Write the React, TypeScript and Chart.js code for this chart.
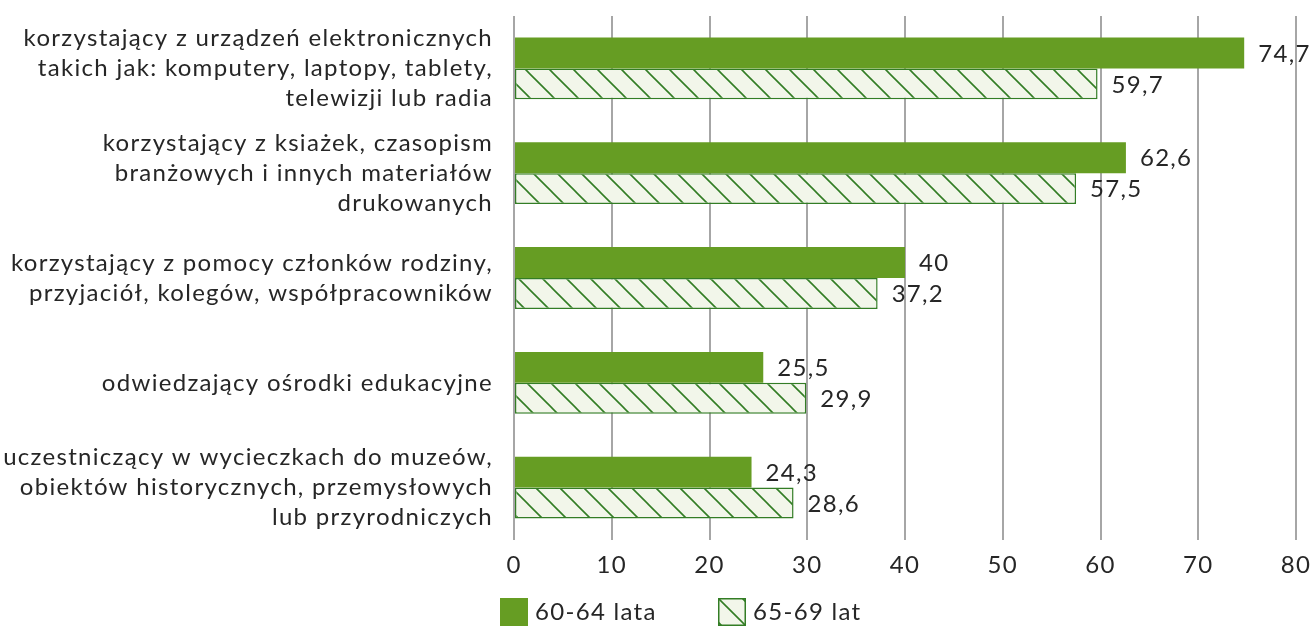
import React, { useEffect, useRef } from "react";
import { Chart, registerables } from "chart.js";

Chart.register(...registerables);

const categories: string[][] = [
  ["korzystający z urządzeń elektronicznych", "takich jak: komputery, laptopy, tablety,", "telewizji lub radia"],
  ["korzystający z ksiażek, czasopism", "branżowych i innych materiałów", "drukowanych"],
  ["korzystający z pomocy członków rodziny,", "przyjaciół, kolegów, współpracowników"],
  ["odwiedzający ośrodki edukacyjne"],
  ["uczestniczący w wycieczkach do muzeów,", "obiektów historycznych, przemysłowych", "lub przyrodniczych"],
];
const seriesNames = ["60-64 lata", "65-69 lat"];
const values6064 = [74.7, 62.6, 40, 25.5, 24.3];
const values6569 = [59.7, 57.5, 37.2, 29.9, 28.6];
const xTicks = [0, 10, 20, 30, 40, 50, 60, 70, 80];

const FONT = "Lato, 'Noto Sans', sans-serif";
const FSIZE = 24;
const SPACING = "1.3px";
const TEXT = "#262626";
const GREEN = "#669d23";
const DARK = "#337d25";
const LIGHT = "#f2f6ea";

function makeHatch(): CanvasPattern | string {
  const s = 24;
  const c = document.createElement("canvas");
  c.width = s;
  c.height = s;
  const g = c.getContext("2d");
  if (!g) return LIGHT;
  g.fillStyle = LIGHT;
  g.fillRect(0, 0, s, s);
  g.strokeStyle = DARK;
  g.lineWidth = 1.6;
  g.beginPath();
  g.moveTo(-2, -2);
  g.lineTo(s + 2, s + 2);
  g.moveTo(-2, s - 2);
  g.lineTo(2, s + 2);
  g.moveTo(s - 2, -2);
  g.lineTo(s + 2, 2);
  g.stroke();
  const p = g.createPattern(c, "repeat");
  return p || LIGHT;
}

const fmt = (v: number) => String(v).replace(".", ",");

const spacingPlugin = {
  id: "spacing",
  beforeUpdate(chart: any) {
    (chart.ctx as any).letterSpacing = SPACING;
  },
  beforeDraw(chart: any) {
    (chart.ctx as any).letterSpacing = SPACING;
  },
};

const valueLabels = {
  id: "valueLabels",
  afterDatasetsDraw(chart: any) {
    const ctx = chart.ctx;
    ctx.save();
    (ctx as any).letterSpacing = SPACING;
    ctx.font = `${FSIZE}px ${FONT}`;
    ctx.fillStyle = TEXT;
    ctx.textAlign = "left";
    ctx.textBaseline = "middle";
    chart.data.datasets.forEach((ds: any, di: number) => {
      const meta = chart.getDatasetMeta(di);
      meta.data.forEach((el: any, i: number) => {
        ctx.fillText(fmt(ds.data[i]), el.x + 14, el.y + 1);
      });
    });
    ctx.restore();
  },
};

const customLegend = {
  id: "customLegend",
  afterDraw(chart: any) {
    const ctx = chart.ctx;
    ctx.save();
    (ctx as any).letterSpacing = SPACING;
    ctx.font = `${FSIZE}px ${FONT}`;
    ctx.textBaseline = "middle";
    ctx.textAlign = "left";
    const starts = [500, 718];
    const boxTop = 598;
    const box = 28;
    chart.data.datasets.forEach((ds: any, i: number) => {
      const x = starts[i];
      ctx.fillStyle = ds.backgroundColor;
      ctx.fillRect(x, boxTop, box, box);
      if (ds.borderWidth) {
        ctx.strokeStyle = ds.borderColor;
        ctx.lineWidth = 1.5;
        ctx.strokeRect(x + 0.75, boxTop + 0.75, box - 1.5, box - 1.5);
      }
      ctx.fillStyle = TEXT;
      ctx.fillText(ds.label, x + box + 7, boxTop + box / 2);
    });
    ctx.restore();
  },
};

export default function App() {
  const ref = useRef<HTMLCanvasElement | null>(null);
  useEffect(() => {
    if (!ref.current) return;
    const hatch = makeHatch();
    const chart = new Chart(ref.current, {
      type: "bar",
      data: {
        labels: categories,
        datasets: [
          {
            label: seriesNames[0],
            data: values6064,
            backgroundColor: GREEN,
            borderWidth: 0,
            categoryPercentage: 0.59,
            barPercentage: 1,
          },
          {
            label: seriesNames[1],
            data: values6569,
            backgroundColor: hatch as any,
            borderColor: DARK,
            borderWidth: 1.5,
            borderSkipped: false,
            categoryPercentage: 0.59,
            barPercentage: 1,
          },
        ],
      },
      options: {
        indexAxis: "y",
        responsive: false,
        animation: false,
        layout: { padding: { top: 16, right: 16, left: 0, bottom: 0 } },
        plugins: {
          legend: { display: false },
          tooltip: { enabled: false },
        },
        scales: {
          x: {
            min: 0,
            max: 80,
            afterBuildTicks: (scale: any) => {
              scale.ticks = xTicks.map((v) => ({ value: v }));
            },
            afterFit: (scale: any) => {
              scale.height = 86;
              scale.paddingLeft = 0;
              scale.paddingRight = 0;
            },
            grid: {
              color: "#a6a6a6",
              lineWidth: 2,
              drawTicks: false,
            },
            border: { display: false },
            ticks: {
              padding: 11,
              color: TEXT,
              font: { family: FONT, size: FSIZE },
            },
          },
          y: {
            afterFit: (scale: any) => {
              scale.width = 514;
              scale.paddingTop = 0;
              scale.paddingBottom = 0;
            },
            grid: { display: false, drawTicks: false },
            border: { display: false },
            ticks: {
              padding: 21,
              color: TEXT,
              font: { family: FONT, size: FSIZE, lineHeight: 1.25 },
            },
          },
        },
      },
      plugins: [spacingPlugin, valueLabels, customLegend],
    });
    return () => chart.destroy();
  }, []);
  return (
    <div style={{ position: "fixed", left: 0, top: 0, width: 1312, height: 626, background: "#fff" }}>
      <canvas ref={ref} width={1312} height={626} />
    </div>
  );
}
